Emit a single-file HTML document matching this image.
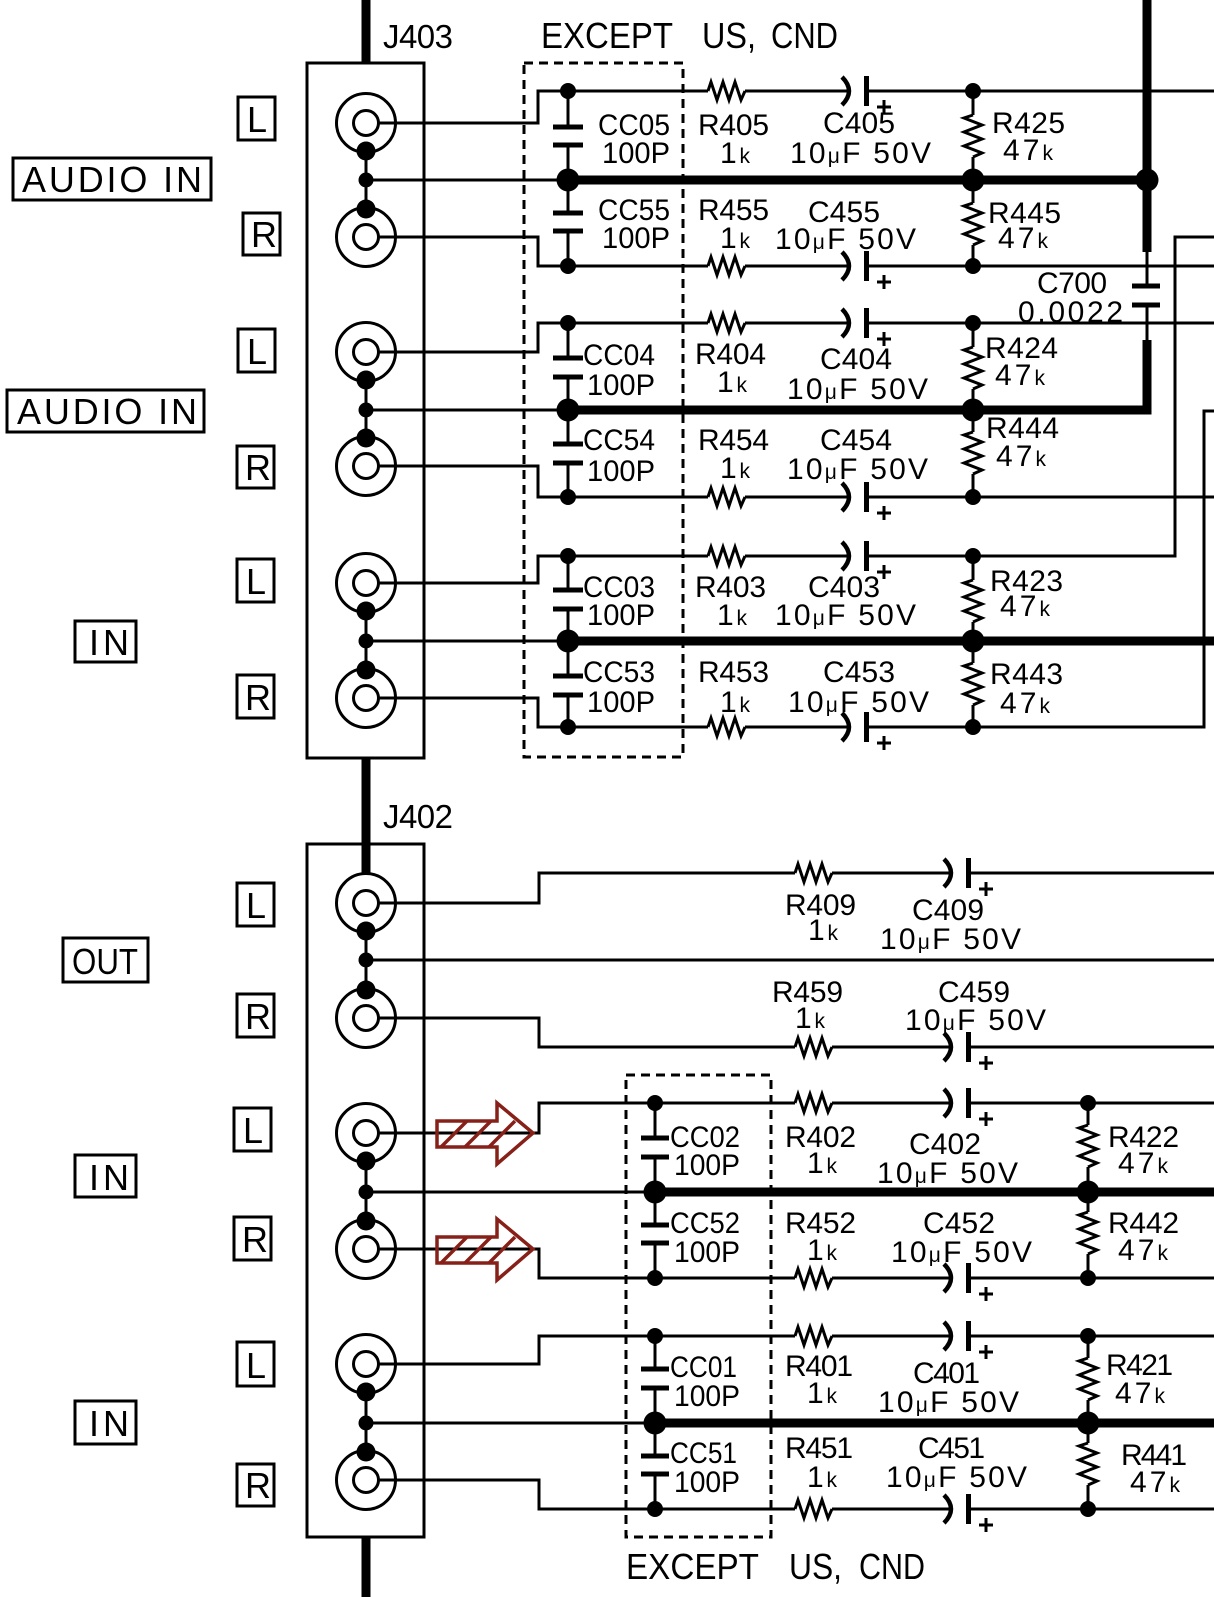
<!DOCTYPE html>
<html><head><meta charset="utf-8"><style>
html,body{margin:0;padding:0;background:#fff;}
svg{display:block;}
text{font-family:"Liberation Sans",sans-serif;fill:#000;}
.t{font-size:30px;}
.s{font-size:21px;}
.b{font-size:33px;}
.e{font-size:36px;}
.lb{font-size:36px;}
</style></head><body>
<svg width="1214" height="1597" viewBox="0 0 1214 1597" xmlns="http://www.w3.org/2000/svg">
<defs>
<path id="rh" d="M0,0 L3,-9 L9,9 L15,-9 L21,9 L27,-9 L33,9 L37,0" fill="none" stroke="#000" stroke-width="3"/>
<path id="rv" d="M0,0 L-9,3 L9,10 L-9,17 L9,24 L-9,31 L9,38 L0,42" fill="none" stroke="#000" stroke-width="3"/>
<g id="ec"><path d="M-4,-14 Q10,0 -4,14" fill="none" stroke="#000" stroke-width="4.5"/><rect x="18" y="-15" width="5" height="30" fill="#000"/><path d="M31,16 H45 M38,9 V23" stroke="#000" stroke-width="3" fill="none"/></g>
<g id="jk"><circle r="29.5" fill="none" stroke="#000" stroke-width="3"/><circle r="12.5" fill="none" stroke="#000" stroke-width="3"/></g>
</defs>

<g fill="none" stroke="#000" stroke-width="3">
<rect x="307" y="63" width="117" height="695"/>
<rect x="307" y="844" width="117" height="693"/>
</g>
<g fill="none" stroke="#000" stroke-width="3" stroke-dasharray="9,6">
<rect x="524" y="63" width="159" height="694"/>
<rect x="626" y="1075" width="145" height="462"/>
</g>

<g fill="none" stroke="#000" stroke-width="9">
<path d="M366,0 V63"/>
<path d="M568,180 H1147"/>
<path d="M1147,0 V252"/>
<path d="M1147,340 V410 H568"/>
<path d="M568,641 H1214"/>
<path d="M366,758 V874"/>
<path d="M655,1192 H1214"/>
<path d="M655,1423 H1214"/>
<path d="M366,1537 V1597"/>
</g>

<g fill="none" stroke="#000" stroke-width="3">
<path d="M379,123 H538 V91 H708 M745,91 H849 M869,91 H1214"/>
<path d="M379,237 H538 V266 H708 M745,266 H849 M869,266 H1214"/>
<path d="M366,180 H568"/>
<path d="M366,151 V209"/>
<path d="M568,91 V127 M568,145 V213 M568,231 V266"/>
<path d="M973,91 V115 M973,157 V203 M973,245 V266"/>
<path d="M1147,252 V286 M1147,305 V340"/>
<path d="M379,352 H538 V323 H708 M745,323 H849 M869,323 H1214"/>
<path d="M379,466 H538 V497 H708 M745,497 H849 M869,497 H1214"/>
<path d="M366,410 H568"/>
<path d="M366,380 V438"/>
<path d="M568,323 V358 M568,377 V444 M568,463 V497"/>
<path d="M973,323 V347 M973,389 V432 M973,474 V497"/>
<path d="M379,583 H538 V556 H708 M745,556 H849 M869,556 H1175 V237 H1214"/>
<path d="M379,698 H538 V727 H708 M745,727 H849 M869,727 H1204 V411 H1214"/>
<path d="M366,641 H568"/>
<path d="M366,611 V670"/>
<path d="M568,556 V590 M568,609 V676 M568,695 V727"/>
<path d="M973,556 V580 M973,622 V663 M973,705 V727"/>
<path d="M379,903 H539 V873 H795 M832,873 H951 M971,873 H1214"/>
<path d="M379,1018 H539 V1047 H795 M832,1047 H951 M971,1047 H1214"/>
<path d="M366,960 H1214"/>
<path d="M366,931 V990"/>
<path d="M379,1133 H539 V1103 H795 M832,1103 H951 M971,1103 H1214"/>
<path d="M379,1249 H539 V1278 H795 M832,1278 H951 M971,1278 H1214"/>
<path d="M366,1192 H655"/>
<path d="M366,1161 V1221"/>
<path d="M655,1103 V1138 M655,1157 V1225 M655,1243 V1278"/>
<path d="M1088,1103 V1125 M1088,1167 V1212 M1088,1254 V1278"/>
<path d="M379,1364 H539 V1336 H795 M832,1336 H951 M971,1336 H1214"/>
<path d="M379,1480 H539 V1509 H795 M832,1509 H951 M971,1509 H1214"/>
<path d="M366,1423 H655"/>
<path d="M366,1392 V1452"/>
<path d="M655,1336 V1369 M655,1388 V1456 M655,1474 V1509"/>
<path d="M1088,1336 V1358 M1088,1400 V1443 M1088,1485 V1509"/>
</g>

<use href="#jk" x="366" y="123"/><use href="#jk" x="366" y="237"/>
<use href="#jk" x="366" y="352"/><use href="#jk" x="366" y="466"/>
<use href="#jk" x="366" y="583"/><use href="#jk" x="366" y="698"/>
<use href="#jk" x="366" y="903"/><use href="#jk" x="366" y="1018"/>
<use href="#jk" x="366" y="1133"/><use href="#jk" x="366" y="1249"/>
<use href="#jk" x="366" y="1364"/><use href="#jk" x="366" y="1480"/>

<use href="#rh" x="708" y="91"/><use href="#rh" x="708" y="266"/>
<use href="#rh" x="708" y="323"/><use href="#rh" x="708" y="497"/>
<use href="#rh" x="708" y="556"/><use href="#rh" x="708" y="727"/>
<use href="#rh" x="795" y="873"/><use href="#rh" x="795" y="1047"/>
<use href="#rh" x="795" y="1103"/><use href="#rh" x="795" y="1278"/>
<use href="#rh" x="795" y="1336"/><use href="#rh" x="795" y="1509"/>

<use href="#rv" x="973" y="115"/><use href="#rv" x="973" y="203"/>
<use href="#rv" x="973" y="347"/><use href="#rv" x="973" y="432"/>
<use href="#rv" x="973" y="580"/><use href="#rv" x="973" y="663"/>
<use href="#rv" x="1088" y="1125"/><use href="#rv" x="1088" y="1212"/>
<use href="#rv" x="1088" y="1358"/><use href="#rv" x="1088" y="1443"/>

<use href="#ec" x="846" y="91"/><use href="#ec" x="846" y="266"/>
<use href="#ec" x="846" y="323"/><use href="#ec" x="846" y="497"/>
<use href="#ec" x="846" y="556"/><use href="#ec" x="846" y="727"/>
<use href="#ec" x="948" y="873"/><use href="#ec" x="948" y="1047"/>
<use href="#ec" x="948" y="1103"/><use href="#ec" x="948" y="1278"/>
<use href="#ec" x="948" y="1336"/><use href="#ec" x="948" y="1509"/>

<g fill="#000">
<rect x="553" y="124.5" width="30" height="5"/><rect x="553" y="142.5" width="30" height="5"/>
<rect x="553" y="210.5" width="30" height="5"/><rect x="553" y="228.5" width="30" height="5"/>
<rect x="553" y="355.5" width="30" height="5"/><rect x="553" y="374.5" width="30" height="5"/>
<rect x="553" y="441.5" width="30" height="5"/><rect x="553" y="460.5" width="30" height="5"/>
<rect x="553" y="587.5" width="30" height="5"/><rect x="553" y="606.5" width="30" height="5"/>
<rect x="553" y="673.5" width="30" height="5"/><rect x="553" y="692.5" width="30" height="5"/>
<rect x="641" y="1135.5" width="28" height="5"/><rect x="641" y="1154.5" width="28" height="5"/>
<rect x="641" y="1222.5" width="28" height="5"/><rect x="641" y="1240.5" width="28" height="5"/>
<rect x="641" y="1366.5" width="28" height="5"/><rect x="641" y="1385.5" width="28" height="5"/>
<rect x="641" y="1453.5" width="28" height="5"/><rect x="641" y="1471.5" width="28" height="5"/>
<rect x="1132" y="283.5" width="28" height="5"/><rect x="1132" y="302.5" width="28" height="5"/>
</g>

<g fill="#000">
<circle cx="366" cy="151" r="9.5"/><circle cx="366" cy="180" r="7.5"/><circle cx="366" cy="209" r="9.5"/>
<circle cx="366" cy="380" r="9.5"/><circle cx="366" cy="410" r="7.5"/><circle cx="366" cy="438" r="9.5"/>
<circle cx="366" cy="611" r="9.5"/><circle cx="366" cy="641" r="7.5"/><circle cx="366" cy="670" r="9.5"/>
<circle cx="366" cy="931" r="9.5"/><circle cx="366" cy="960" r="7.5"/><circle cx="366" cy="990" r="9.5"/>
<circle cx="366" cy="1161" r="9.5"/><circle cx="366" cy="1192" r="7.5"/><circle cx="366" cy="1221" r="9.5"/>
<circle cx="366" cy="1392" r="9.5"/><circle cx="366" cy="1423" r="7.5"/><circle cx="366" cy="1452" r="9.5"/>
<circle cx="568" cy="91" r="8"/><circle cx="568" cy="180" r="11.5"/><circle cx="568" cy="266" r="8"/>
<circle cx="568" cy="323" r="8"/><circle cx="568" cy="410" r="11.5"/><circle cx="568" cy="497" r="8"/>
<circle cx="568" cy="556" r="8"/><circle cx="568" cy="641" r="11.5"/><circle cx="568" cy="727" r="8"/>
<circle cx="973" cy="91" r="8"/><circle cx="973" cy="180" r="11.5"/><circle cx="973" cy="266" r="8"/>
<circle cx="973" cy="323" r="8"/><circle cx="973" cy="410" r="11.5"/><circle cx="973" cy="497" r="8"/>
<circle cx="973" cy="556" r="8"/><circle cx="973" cy="641" r="11.5"/><circle cx="973" cy="727" r="8"/>
<circle cx="1147" cy="180" r="11.5"/>
<circle cx="655" cy="1103" r="8"/><circle cx="655" cy="1192" r="11.5"/><circle cx="655" cy="1278" r="8"/>
<circle cx="655" cy="1336" r="8"/><circle cx="655" cy="1423" r="11.5"/><circle cx="655" cy="1509" r="8"/>
<circle cx="1088" cy="1103" r="8"/><circle cx="1088" cy="1192" r="11.5"/><circle cx="1088" cy="1278" r="8"/>
<circle cx="1088" cy="1336" r="8"/><circle cx="1088" cy="1423" r="11.5"/><circle cx="1088" cy="1509" r="8"/>
</g>

<g fill="none" stroke="#862018" stroke-width="3.5" stroke-linejoin="miter">
<polygon points="437,1121 497,1121 497,1103 533,1133 497,1164 497,1147 437,1147"/>
<path d="M441,1147 L467,1121 M465,1147 L491,1121 M489,1147 L515,1121"/>
<polygon points="437,1237 497,1237 497,1219 533,1249 497,1280 497,1263 437,1263"/>
<path d="M441,1263 L467,1237 M465,1263 L491,1237 M489,1263 L515,1237"/>
</g>

<g fill="none" stroke="#000" stroke-width="3">
<rect x="13" y="158" width="198" height="42"/>
<rect x="7" y="390" width="197" height="42"/>
<rect x="75" y="621" width="61" height="41"/>
<rect x="63" y="938" width="85" height="44"/>
<rect x="75" y="1155" width="61" height="42"/>
<rect x="75" y="1401" width="61" height="43"/>
<rect x="238" y="97" width="37" height="43"/>
<rect x="243" y="213" width="37" height="42"/>
<rect x="238" y="329" width="37" height="43"/>
<rect x="237" y="446" width="37" height="42"/>
<rect x="237" y="559" width="37" height="43"/>
<rect x="237" y="675" width="37" height="43"/>
<rect x="237" y="883" width="37" height="43"/>
<rect x="237" y="994" width="37" height="43"/>
<rect x="234" y="1108" width="37" height="43"/>
<rect x="234" y="1217" width="37" height="43"/>
<rect x="237" y="1342" width="37" height="44"/>
<rect x="237" y="1464" width="37" height="42"/>
</g>
<g class="lb">
<text x="22" y="192" textLength="180" lengthAdjust="spacing">AUDIO IN</text>
<text x="17" y="424" textLength="180" lengthAdjust="spacing">AUDIO IN</text>
<text x="89" y="655" textLength="40" lengthAdjust="spacing">IN</text>
<text x="72" y="974" textLength="66" lengthAdjust="spacingAndGlyphs">OUT</text>
<text x="89" y="1190" textLength="40" lengthAdjust="spacing">IN</text>
<text x="89" y="1436" textLength="40" lengthAdjust="spacing">IN</text>
<text x="247" y="132">L</text>
<text x="251" y="247">R</text>
<text x="247" y="364">L</text>
<text x="245" y="480">R</text>
<text x="246" y="594">L</text>
<text x="245" y="710">R</text>
<text x="246" y="918">L</text>
<text x="245" y="1029">R</text>
<text x="243" y="1143">L</text>
<text x="242" y="1252">R</text>
<text x="246" y="1378">L</text>
<text x="245" y="1498">R</text>
</g>

<text class="b" x="383" y="48" textLength="70" lengthAdjust="spacing">J403</text>
<text class="b" x="383" y="828" textLength="70" lengthAdjust="spacing">J402</text>
<text class="e" x="541" y="48" textLength="132" lengthAdjust="spacingAndGlyphs">EXCEPT</text>
<text class="e" x="702" y="48" textLength="54" lengthAdjust="spacingAndGlyphs">US,</text>
<text class="e" x="771" y="48" textLength="67" lengthAdjust="spacingAndGlyphs">CND</text>
<text class="e" x="626" y="1579" textLength="133" lengthAdjust="spacingAndGlyphs">EXCEPT</text>
<text class="e" x="789" y="1579" textLength="53" lengthAdjust="spacingAndGlyphs">US,</text>
<text class="e" x="859" y="1579" textLength="66" lengthAdjust="spacingAndGlyphs">CND</text>

<g class="t">
<text x="598" y="135" textLength="72" lengthAdjust="spacingAndGlyphs">CC05</text>
<text x="602" y="163" textLength="68" lengthAdjust="spacingAndGlyphs">100P</text>
<text x="598" y="220" textLength="72" lengthAdjust="spacingAndGlyphs">CC55</text>
<text x="602" y="248" textLength="68" lengthAdjust="spacingAndGlyphs">100P</text>
<text x="698" y="135" textLength="71" lengthAdjust="spacing">R405</text>
<text x="720" y="163" textLength="30" lengthAdjust="spacing">1<tspan class="s">k</tspan></text>
<text x="698" y="220" textLength="71" lengthAdjust="spacing">R455</text>
<text x="720" y="248" textLength="30" lengthAdjust="spacing">1<tspan class="s">k</tspan></text>
<text x="823" y="133" textLength="72" lengthAdjust="spacing">C405</text>
<text x="790" y="163" textLength="141" lengthAdjust="spacing">10<tspan class="s">μ</tspan>F 50V</text>
<text x="808" y="222" textLength="72" lengthAdjust="spacing">C455</text>
<text x="775" y="249" textLength="141" lengthAdjust="spacing">10<tspan class="s">μ</tspan>F 50V</text>
<text x="992" y="133" textLength="73" lengthAdjust="spacing">R425</text>
<text x="1003" y="160" textLength="50" lengthAdjust="spacing">47<tspan class="s">k</tspan></text>
<text x="988" y="223" textLength="73" lengthAdjust="spacing">R445</text>
<text x="998" y="248" textLength="50" lengthAdjust="spacing">47<tspan class="s">k</tspan></text>
<text x="1037" y="293" textLength="70" lengthAdjust="spacing">C700</text>
<text x="1018" y="322" textLength="105" lengthAdjust="spacing">0.0022</text>
<text x="583" y="365" textLength="72" lengthAdjust="spacingAndGlyphs">CC04</text>
<text x="587" y="395" textLength="68" lengthAdjust="spacingAndGlyphs">100P</text>
<text x="583" y="450" textLength="72" lengthAdjust="spacingAndGlyphs">CC54</text>
<text x="587" y="481" textLength="68" lengthAdjust="spacingAndGlyphs">100P</text>
<text x="695" y="364" textLength="71" lengthAdjust="spacing">R404</text>
<text x="717" y="392" textLength="30" lengthAdjust="spacing">1<tspan class="s">k</tspan></text>
<text x="698" y="450" textLength="71" lengthAdjust="spacing">R454</text>
<text x="720" y="478" textLength="30" lengthAdjust="spacing">1<tspan class="s">k</tspan></text>
<text x="820" y="369" textLength="72" lengthAdjust="spacing">C404</text>
<text x="787" y="399" textLength="141" lengthAdjust="spacing">10<tspan class="s">μ</tspan>F 50V</text>
<text x="820" y="450" textLength="72" lengthAdjust="spacing">C454</text>
<text x="787" y="479" textLength="141" lengthAdjust="spacing">10<tspan class="s">μ</tspan>F 50V</text>
<text x="985" y="358" textLength="73" lengthAdjust="spacing">R424</text>
<text x="995" y="385" textLength="50" lengthAdjust="spacing">47<tspan class="s">k</tspan></text>
<text x="986" y="438" textLength="73" lengthAdjust="spacing">R444</text>
<text x="996" y="466" textLength="50" lengthAdjust="spacing">47<tspan class="s">k</tspan></text>
<text x="583" y="597" textLength="72" lengthAdjust="spacingAndGlyphs">CC03</text>
<text x="587" y="625" textLength="68" lengthAdjust="spacingAndGlyphs">100P</text>
<text x="583" y="682" textLength="72" lengthAdjust="spacingAndGlyphs">CC53</text>
<text x="587" y="712" textLength="68" lengthAdjust="spacingAndGlyphs">100P</text>
<text x="695" y="597" textLength="71" lengthAdjust="spacing">R403</text>
<text x="717" y="625" textLength="30" lengthAdjust="spacing">1<tspan class="s">k</tspan></text>
<text x="698" y="682" textLength="71" lengthAdjust="spacing">R453</text>
<text x="720" y="712" textLength="30" lengthAdjust="spacing">1<tspan class="s">k</tspan></text>
<text x="808" y="597" textLength="72" lengthAdjust="spacing">C403</text>
<text x="775" y="625" textLength="141" lengthAdjust="spacing">10<tspan class="s">μ</tspan>F 50V</text>
<text x="823" y="682" textLength="72" lengthAdjust="spacing">C453</text>
<text x="788" y="712" textLength="141" lengthAdjust="spacing">10<tspan class="s">μ</tspan>F 50V</text>
<text x="990" y="591" textLength="73" lengthAdjust="spacing">R423</text>
<text x="1000" y="616" textLength="50" lengthAdjust="spacing">47<tspan class="s">k</tspan></text>
<text x="990" y="684" textLength="73" lengthAdjust="spacing">R443</text>
<text x="1000" y="713" textLength="50" lengthAdjust="spacing">47<tspan class="s">k</tspan></text>
<text x="785" y="915" textLength="71" lengthAdjust="spacing">R409</text>
<text x="808" y="940" textLength="30" lengthAdjust="spacing">1<tspan class="s">k</tspan></text>
<text x="912" y="920" textLength="72" lengthAdjust="spacing">C409</text>
<text x="880" y="949" textLength="141" lengthAdjust="spacing">10<tspan class="s">μ</tspan>F 50V</text>
<text x="772" y="1002" textLength="71" lengthAdjust="spacing">R459</text>
<text x="795" y="1028" textLength="30" lengthAdjust="spacing">1<tspan class="s">k</tspan></text>
<text x="938" y="1002" textLength="72" lengthAdjust="spacing">C459</text>
<text x="905" y="1030" textLength="141" lengthAdjust="spacing">10<tspan class="s">μ</tspan>F 50V</text>
<text x="670" y="1147" textLength="70" lengthAdjust="spacingAndGlyphs">CC02</text>
<text x="674" y="1175" textLength="66" lengthAdjust="spacingAndGlyphs">100P</text>
<text x="670" y="1233" textLength="70" lengthAdjust="spacingAndGlyphs">CC52</text>
<text x="674" y="1262" textLength="66" lengthAdjust="spacingAndGlyphs">100P</text>
<text x="785" y="1147" textLength="71" lengthAdjust="spacing">R402</text>
<text x="807" y="1173" textLength="30" lengthAdjust="spacing">1<tspan class="s">k</tspan></text>
<text x="785" y="1233" textLength="71" lengthAdjust="spacing">R452</text>
<text x="807" y="1260" textLength="30" lengthAdjust="spacing">1<tspan class="s">k</tspan></text>
<text x="909" y="1154" textLength="72" lengthAdjust="spacing">C402</text>
<text x="877" y="1183" textLength="141" lengthAdjust="spacing">10<tspan class="s">μ</tspan>F 50V</text>
<text x="923" y="1233" textLength="72" lengthAdjust="spacing">C452</text>
<text x="891" y="1262" textLength="141" lengthAdjust="spacing">10<tspan class="s">μ</tspan>F 50V</text>
<text x="1108" y="1147" textLength="71" lengthAdjust="spacing">R422</text>
<text x="1118" y="1173" textLength="50" lengthAdjust="spacing">47<tspan class="s">k</tspan></text>
<text x="1108" y="1233" textLength="71" lengthAdjust="spacing">R442</text>
<text x="1118" y="1260" textLength="50" lengthAdjust="spacing">47<tspan class="s">k</tspan></text>
<text x="670" y="1377" textLength="67" lengthAdjust="spacingAndGlyphs">CC01</text>
<text x="674" y="1406" textLength="66" lengthAdjust="spacingAndGlyphs">100P</text>
<text x="670" y="1463" textLength="67" lengthAdjust="spacingAndGlyphs">CC51</text>
<text x="674" y="1492" textLength="66" lengthAdjust="spacingAndGlyphs">100P</text>
<text x="785" y="1376" textLength="68" lengthAdjust="spacing">R401</text>
<text x="807" y="1403" textLength="30" lengthAdjust="spacing">1<tspan class="s">k</tspan></text>
<text x="785" y="1458" textLength="68" lengthAdjust="spacing">R451</text>
<text x="807" y="1487" textLength="30" lengthAdjust="spacing">1<tspan class="s">k</tspan></text>
<text x="913" y="1383" textLength="67" lengthAdjust="spacing">C401</text>
<text x="878" y="1412" textLength="141" lengthAdjust="spacing">10<tspan class="s">μ</tspan>F 50V</text>
<text x="918" y="1458" textLength="67" lengthAdjust="spacing">C451</text>
<text x="886" y="1487" textLength="141" lengthAdjust="spacing">10<tspan class="s">μ</tspan>F 50V</text>
<text x="1106" y="1375" textLength="67" lengthAdjust="spacing">R421</text>
<text x="1115" y="1403" textLength="50" lengthAdjust="spacing">47<tspan class="s">k</tspan></text>
<text x="1121" y="1465" textLength="66" lengthAdjust="spacing">R441</text>
<text x="1130" y="1492" textLength="50" lengthAdjust="spacing">47<tspan class="s">k</tspan></text>
</g>
</svg>
</body></html>
